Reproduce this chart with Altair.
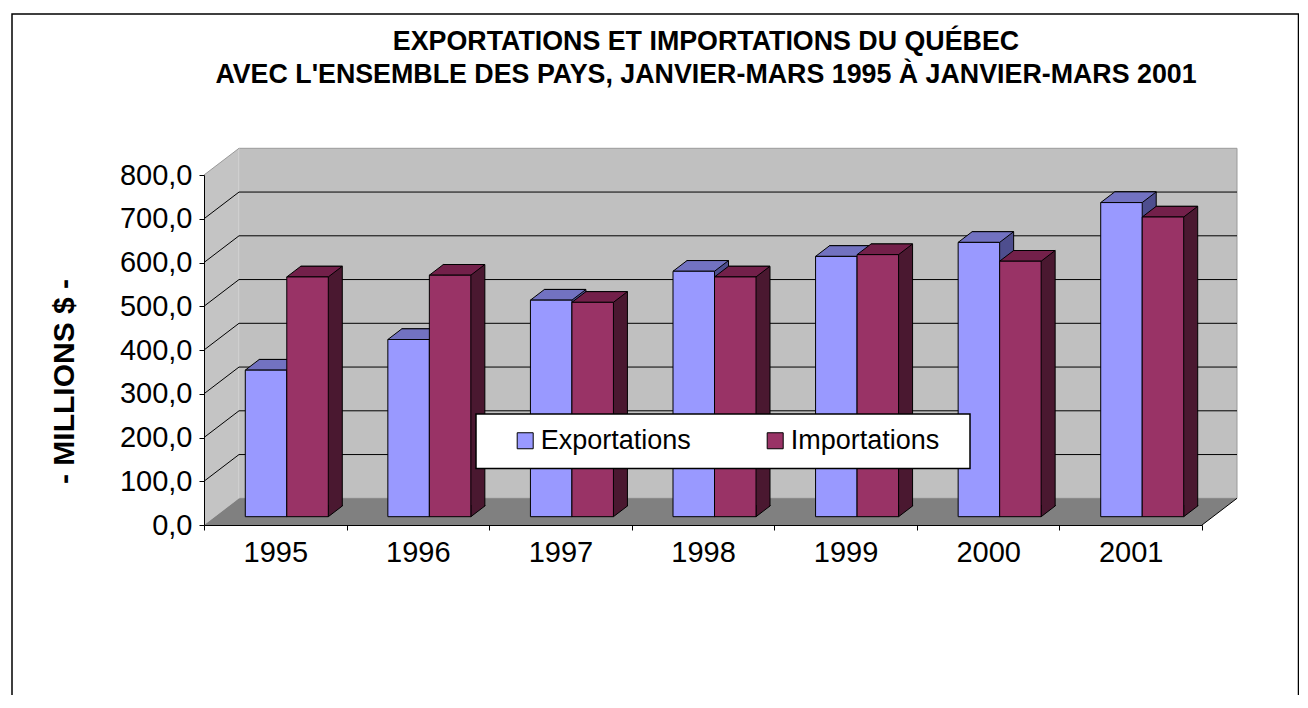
import altair as alt
import pandas as pd

# ---------------- data ----------------
years = ["1995", "1996", "1997", "1998", "1999", "2000", "2001"]
exportations = [335, 405, 495, 561, 595, 627, 718]
importations = [548, 552, 490, 548, 599, 584, 685]
series_names = ["Exportations", "Importations"]
y_ticks = [0, 100, 200, 300, 400, 500, 600, 700, 800]
wall_grid = [100, 200, 300, 400, 500, 600, 700]

title_lines = [
    "EXPORTATIONS ET IMPORTATIONS DU QUÉBEC",
    "AVEC L'ENSEMBLE DES PAYS, JANVIER-MARS 1995 À JANVIER-MARS 2001",
]
y_title = "- MILLIONS $ -"

# ---------------- styling / geometry ----------------
W, H = 998, 350           # front plane of the plot
DX, DY = 35, 26.7         # depth of walls / floor
BX, BY = 14, 10.7         # depth of a bar
BAR_W = 41.5
HW = BAR_W / 2
LIFT = 8.3                # bars stand a little behind the front edge
FONT = "Liberation Sans"

front_col = {"Exportations": "#9999FF", "Importations": "#993366"}
top_col = {"Exportations": "#7272C1", "Importations": "#73204A"}
side_col = {"Exportations": "#4E4E8E", "Importations": "#4A1830"}
x_shift = {"Exportations": -9.25, "Importations": 32.25}

df = pd.DataFrame({
    "year": years * 2,
    "series": [series_names[0]] * len(years) + [series_names[1]] * len(years),
    "value": exportations + importations,
})
grid_df = pd.DataFrame({"t": wall_grid})
one = pd.DataFrame({"k": [0]})

xs = alt.Scale(domain=years, paddingInner=0, paddingOuter=0)
ys = alt.Scale(domain=[0, 800], nice=False, zero=True)

x_axis = alt.Axis(
    title=None, labelFontSize=29, labelFont=FONT, labelColor="black", labelAngle=0,
    tickBand="extent", tickSize=5, tickColor="black", domainColor="black",
    labelPadding=8, grid=False, zindex=1,
)
y_axis = alt.Axis(
    values=y_ticks, labelExpr="replace(format(datum.value, '.1f'), '.', ',')",
    labelFontSize=29, labelFont=FONT, labelColor="black", tickSize=5,
    tickColor="black", domainColor="black", labelPadding=7, grid=False,
    title=y_title, titleFontSize=30, titleFont=FONT, titleFontWeight="bold",
    titleColor="black", titleAngle=270, titleX=-140, titleY=206,
    titleAlign="center", titleBaseline="middle", zindex=1,
)


def Y(field_or_datum, datum=False):
    if datum:
        return alt.YDatum(field_or_datum, scale=ys, axis=y_axis)
    return alt.Y(field_or_datum, scale=ys, axis=y_axis)


X_year = alt.X("year:N", scale=xs, axis=x_axis)

layers = []

# outer frame / background
layers.append(
    alt.Chart(one).mark_rect(fill="white", stroke="black", strokeWidth=1.5).encode(
        x=alt.value(-192), x2=alt.value(1094.5), y=alt.value(-161), y2=alt.value(560)
    )
)

# back wall
layers.append(
    alt.Chart(one).mark_rect(fill="#C0C0C0", stroke="#9a9a9a", strokeWidth=1,
                             yOffset=-DY, y2Offset=-DY).encode(
        x=alt.value(DX), x2=alt.value(W + DX),
        y=Y(800, datum=True), y2=alt.Y2Datum(0)
    )
)

# left wall
left_wall_path = f"M0,0 L{DX},{-DY} L{DX},{-DY - H} L0,{-H} Z"
layers.append(
    alt.Chart(one).mark_point(shape=left_wall_path, size=4, filled=True, fill="#C4C4C4",
                              opacity=1, strokeWidth=0).encode(
        x=alt.value(0), y=Y(0, datum=True)
    )
)

# floor
floor_path = f"M0,0 L{W},0 L{W + DX},{-DY} L{DX},{-DY} Z"
layers.append(
    alt.Chart(one).mark_point(shape=floor_path, size=4, filled=True, fill="#808080",
                              opacity=1, strokeWidth=0).encode(
        x=alt.value(0), y=Y(0, datum=True)
    )
)

# corner line between left wall and back wall
layers.append(
    alt.Chart(one).mark_rule(color="#dadada", strokeWidth=1, yOffset=-DY, y2Offset=-DY).encode(
        x=alt.value(DX), y=Y(800, datum=True), y2=alt.Y2Datum(0)
    )
)

# gridlines on back wall
layers.append(
    alt.Chart(grid_df).mark_rule(color="black", strokeWidth=1, yOffset=-DY).encode(
        x=alt.value(DX), x2=alt.value(W + DX), y=Y("t:Q")
    )
)

# gridlines on left wall (diagonals)
layers.append(
    alt.Chart(grid_df).mark_rule(color="black", strokeWidth=1, y2Offset=-DY).encode(
        x=alt.value(0), x2=alt.value(DX), y=Y("t:Q"), y2=alt.Y2("t:Q")
    )
)
# top edge of left wall
layers.append(
    alt.Chart(one).mark_rule(color="#9a9a9a", strokeWidth=1, y2Offset=-DY).encode(
        x=alt.value(0), x2=alt.value(DX), y=Y(800, datum=True), y2=alt.Y2Datum(800)
    )
)
# right edge of floor
layers.append(
    alt.Chart(one).mark_rule(color="black", strokeWidth=1, y2Offset=-DY).encode(
        x=alt.value(W), x2=alt.value(W + DX), y=Y(0, datum=True), y2=alt.Y2Datum(0)
    )
)

color_scale = alt.Scale(domain=series_names, range=[front_col[s] for s in series_names])
legend = alt.Legend(
    orient="none", legendX=307.7, legendY=252, direction="horizontal", title=None,
    symbolType="square", symbolSize=256, symbolStrokeColor="black", symbolStrokeWidth=1,
    symbolOpacity=1, labelFontSize=27, labelFont=FONT, labelColor="black", labelOffset=2,
    columnPadding=70, padding=0, labelLimit=400,
)

top_path = f"M{-HW},0 L{HW},0 L{HW + BX},{-BY} L{-HW + BX},{-BY} Z"
bottom_tri = f"M{HW},{-BY - 1} L{HW},0 L{HW + BX},{-BY} L{HW + BX},{-BY - 1}"

for s in series_names:
    base = alt.Chart(df).transform_filter(alt.datum.series == s)
    off = x_shift[s]
    # side face (shifted copy of the bar)
    layers.append(
        base.mark_bar(width=BAR_W, xOffset=off + BX, yOffset=-LIFT - BY, y2Offset=-LIFT - BY,
                      fill=side_col[s], stroke="black", strokeWidth=1).encode(
            x=X_year, y=Y("value:Q"), y2=alt.Y2Datum(0)
        )
    )
    # lower corner of the side face
    layers.append(
        base.mark_point(shape=bottom_tri, size=4, filled=True, fill=side_col[s], stroke="black",
                        strokeWidth=1, opacity=1, xOffset=off, yOffset=-LIFT).encode(
            x=X_year, y=Y(0, datum=True)
        )
    )
    # top face
    layers.append(
        base.mark_point(shape=top_path, size=4, filled=True, fill=top_col[s], stroke="black",
                        strokeWidth=1, opacity=1, xOffset=off, yOffset=-LIFT).encode(
            x=X_year, y=Y("value:Q")
        )
    )
    # front face
    layers.append(
        base.mark_bar(width=BAR_W, xOffset=off, yOffset=-LIFT, y2Offset=-LIFT,
                      stroke="black", strokeWidth=1, opacity=1).encode(
            x=X_year, y=Y("value:Q"), y2=alt.Y2Datum(0),
            color=alt.Color("series:N", scale=color_scale, legend=legend),
        )
    )

# legend box
layers.append(
    alt.Chart(one).mark_rect(fill="white", stroke="black", strokeWidth=1.5).encode(
        x=alt.value(272), x2=alt.value(766), y=alt.value(239), y2=alt.value(293.5)
    )
)

chart = alt.layer(*layers).properties(
    width=W, height=H,
    padding={"left": 196, "top": 167, "right": 97, "bottom": 170},
    autosize=alt.AutoSizeParams(type="none"),
    title=alt.TitleParams(
        text=title_lines, font=FONT, fontSize=26.8, fontWeight="bold", color="black",
        anchor="middle", frame="group", offset=-76, lineHeight=33, dx=3,
    ),
).configure_view(stroke=None)

chart.save("out.html", embed_options={"renderer": "svg", "actions": False})
